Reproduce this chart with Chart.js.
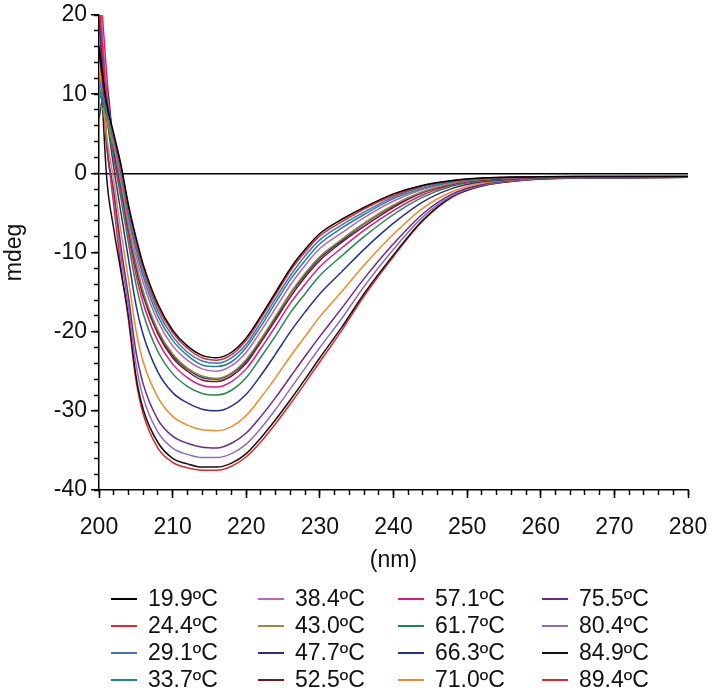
<!DOCTYPE html>
<html>
<head>
<meta charset="utf-8">
<script src="https://cdn.jsdelivr.net/npm/chart.js@4.4.1/dist/chart.umd.min.js"></script>
<style>
  html, body { margin: 0; padding: 0; background: #fff; }
  #wrap { position: relative; width: 709px; height: 698px; }
  #legend { position: absolute; left: 0; top: 0; font-family: "Liberation Sans", Arial, sans-serif; font-size: 23px; color: #111; }
  .item { position: absolute; display: flex; align-items: center; height: 25px; white-space: nowrap; }
  .swatch { width: 26px; height: 2px; margin-right: 11px; }
</style>
</head>
<body>
<div id="wrap"><canvas id="cdChart"></canvas><div id="legend"></div></div>
<script>
// wavelength (nm)
const wavelengths = [200, 201, 202, 203, 204, 205, 206, 208, 210, 212, 214, 216, 218, 220, 222, 224, 226, 228, 230, 233, 236, 240, 244, 248, 252, 258, 265, 272, 280];

// temperature labels
const temps = ['19.9ºC', '24.4ºC', '29.1ºC', '33.7ºC', '38.4ºC', '43.0ºC', '47.7ºC', '52.5ºC',
               '57.1ºC', '61.7ºC', '66.3ºC', '71.0ºC', '75.5ºC', '80.4ºC', '84.9ºC', '89.4ºC'];

// CD signal (mdeg), one array per temperature
const cd19_9 = [16, 9, 5, 1, -4, -8, -11.5, -16.5, -19.8, -21.8, -23, -23.3, -22.6, -20.8, -18, -15, -12, -9.6, -7.6, -5.8, -4.3, -2.6, -1.5, -0.9, -0.6, -0.45, -0.4, -0.4, -0.4];
const cd24_4 = [22, 10, 4.8, 0.7, -4.3, -8.4, -11.9, -16.9, -20.1, -22.1, -23.3, -23.6, -22.9, -21.1, -18.3, -15.3, -12.3, -9.9, -7.9, -6.1, -4.5, -2.8, -1.6, -0.94, -0.62, -0.46, -0.4, -0.4, -0.4];
const cd29_1 = [12, 8, 4.6, 0.4, -4.7, -8.9, -12.4, -17.4, -20.6, -22.6, -23.7, -24.0, -23.3, -21.6, -18.8, -15.8, -12.9, -10.4, -8.4, -6.5, -4.9, -3.0, -1.7, -1.0, -0.65, -0.47, -0.41, -0.41, -0.4];
const cd33_7 = [10, 8, 4.3, 0.0, -5.2, -9.4, -13.0, -18.0, -21.1, -23.0, -24.2, -24.4, -23.8, -22.0, -19.3, -16.3, -13.4, -11.0, -8.9, -6.9, -5.2, -3.2, -1.9, -1.07, -0.68, -0.48, -0.42, -0.41, -0.41];
const cd38_4 = [24, 11, 3.9, -0.6, -5.7, -10.2, -13.8, -18.7, -21.8, -23.6, -24.7, -25.0, -24.3, -22.6, -19.9, -17.0, -14.1, -11.6, -9.5, -7.5, -5.6, -3.5, -2.0, -1.15, -0.72, -0.5, -0.42, -0.42, -0.41];
const cd43_0 = [9, 7, 3.4, -1.3, -6.6, -11.2, -14.9, -19.8, -22.8, -24.6, -25.6, -25.9, -25.2, -23.5, -20.9, -18.0, -15.1, -12.6, -10.5, -8.3, -6.3, -4.0, -2.3, -1.28, -0.78, -0.52, -0.44, -0.43, -0.42];
const cd47_7 = [7, 11, 3.3, -1.5, -6.8, -11.4, -15.1, -20.0, -23.0, -24.7, -25.8, -26.0, -25.3, -23.7, -21.0, -18.2, -15.2, -12.8, -10.7, -8.5, -6.4, -4.1, -2.4, -1.3, -0.79, -0.53, -0.44, -0.43, -0.42];
const cd52_5 = [15, 9, 3.1, -1.7, -7.0, -11.8, -15.5, -20.3, -23.3, -25.0, -26.1, -26.3, -25.6, -24.0, -21.3, -18.5, -15.6, -13.1, -11.0, -8.7, -6.7, -4.3, -2.4, -1.34, -0.81, -0.53, -0.44, -0.43, -0.42];
const cd57_1 = [26, 13, 2.7, -2.4, -7.8, -12.7, -16.4, -21.2, -24.1, -25.8, -26.8, -27.0, -26.3, -24.7, -22.1, -19.3, -16.4, -14.0, -11.8, -9.4, -7.2, -4.7, -2.7, -1.45, -0.86, -0.55, -0.45, -0.44, -0.43];
const cd61_7 = [11, 7, 2.0, -3.3, -8.8, -13.9, -17.7, -22.5, -25.3, -26.9, -27.8, -28.0, -27.4, -25.8, -23.2, -20.5, -17.6, -15.2, -12.9, -10.4, -8.0, -5.2, -3.0, -1.6, -0.93, -0.58, -0.47, -0.45, -0.43];
const cd66_3 = [20, 8, 0.8, -5.1, -10.8, -16.5, -20.4, -25.1, -27.7, -29.0, -29.8, -30.0, -29.4, -27.9, -25.5, -22.8, -20.0, -17.5, -15.2, -12.4, -9.6, -6.3, -3.6, -1.9, -1.07, -0.64, -0.49, -0.47, -0.45];
const cd71_0 = [14, 5, -0.9, -7.5, -13.4, -19.7, -23.8, -28.3, -30.7, -31.8, -32.4, -32.5, -32.0, -30.6, -28.3, -25.8, -23.1, -20.6, -18.1, -14.9, -11.6, -7.7, -4.4, -2.3, -1.25, -0.71, -0.53, -0.5, -0.47];
const cd75_5 = [20, 4, -2.2, -9.4, -15.6, -22.4, -26.6, -31.1, -33.2, -34.1, -34.6, -34.7, -34.1, -32.8, -30.7, -28.3, -25.7, -23.1, -20.6, -17.0, -13.3, -8.9, -5.1, -2.6, -1.4, -0.77, -0.56, -0.52, -0.48];
const cd80_4 = [18, 4, -3.0, -10.6, -16.9, -24.0, -28.3, -32.7, -34.7, -35.5, -35.9, -35.9, -35.4, -34.2, -32.2, -29.8, -27.2, -24.6, -22.0, -18.3, -14.3, -9.6, -5.5, -2.8, -1.5, -0.81, -0.58, -0.53, -0.49];
const cd84_9 = [18, 0, -7, -12.5, -18, -25.5, -29.8, -34.0, -36.0, -36.7, -37.1, -37.1, -36.6, -35.4, -33.4, -31.1, -28.6, -26.0, -23.3, -19.4, -15.2, -10.3, -5.9, -2.9, -1.57, -0.84, -0.59, -0.55, -0.5];
const cd89_4 = [25, 5, -4, -12, -18.5, -26, -30.4, -34.7, -36.5, -37.2, -37.5, -37.5, -37, -35.8, -33.9, -31.6, -29.1, -26.5, -23.8, -19.8, -15.5, -10.5, -6.0, -3.0, -1.6, -0.85, -0.6, -0.55, -0.5];

const series = [cd19_9, cd24_4, cd29_1, cd33_7, cd38_4, cd43_0, cd47_7, cd52_5,
                cd57_1, cd61_7, cd66_3, cd71_0, cd75_5, cd80_4, cd84_9, cd89_4];

const colors = ['#000000', '#e8262b', '#4a6fbf', '#138a8a', '#c060b8', '#8f8f3a', '#2a2f7a', '#7a1418',
                '#e0187f', '#1f8a4c', '#25308f', '#f08a24', '#6c2a86', '#8a6cc0', '#111111', '#e3262d'];

const FONT = { family: '"Liberation Sans", Arial, sans-serif', size: 23 };

const datasets = series.map((vals, i) => ({
    label: temps[i],
    data: wavelengths.map((w, j) => ({ x: w, y: vals[j] })),
    borderColor: colors[i],
    borderWidth: 1.5,
    pointRadius: 0,
    cubicInterpolationMode: 'monotone',
    fill: false
}));

// minor tick axes: no labels, no border, zero thickness, sit right on the main axis line
const minorX = {
    type: 'linear', position: 'bottom', min: 200, max: 280, weight: -1,
    border: { display: false },
    grid: { drawOnChartArea: false, tickLength: 5, tickColor: '#000', tickWidth: 1.5 },
    ticks: { stepSize: 2, autoSkip: false, display: false },
    afterFit: s => { s.height = 0; s.paddingLeft = 0; s.paddingRight = 0; }
};
const minorY = {
    type: 'linear', position: 'left', min: -40, max: 20, weight: -1,
    border: { display: false },
    grid: { drawOnChartArea: false, tickLength: 5, tickColor: '#000', tickWidth: 1.5 },
    ticks: { stepSize: 2, autoSkip: false, display: false },
    afterFit: s => { s.width = 0; s.paddingTop = 0; s.paddingBottom = 0; }
};

const chart = new Chart(document.getElementById('cdChart'), {
    type: 'line',
    data: { datasets },
    options: {
        responsive: true,
        maintainAspectRatio: false,
        animation: false,
        layout: { padding: { left: 0, top: 15, right: 21, bottom: 124 } },
        plugins: { legend: { display: false }, tooltip: { enabled: false } },
        scales: {
            x: {
                type: 'linear',
                position: 'bottom',
                min: 200,
                max: 280,
                border: { display: true, color: '#000', width: 1.5 },
                grid: { drawOnChartArea: false, drawTicks: true, tickLength: 8, tickColor: '#000', tickWidth: 1.5 },
                ticks: {
                    stepSize: 10,
                    maxRotation: 0,
                    padding: 16,
                    color: '#111',
                    font: FONT
                },
                title: { display: true, text: '(nm)', color: '#111', font: FONT, padding: 0 },
                afterFit: s => { s.height = 84; s.paddingLeft = 0; s.paddingRight = 0; }
            },
            y: {
                position: 'left',
                min: -40,
                max: 20,
                border: { display: true, color: '#000', width: 1.5 },
                grid: {
                    drawOnChartArea: true,
                    drawTicks: true,
                    tickLength: 8,
                    tickColor: '#000',
                    tickWidth: 1.5,
                    lineWidth: 1.5,
                    color: c => (c.tick && c.tick.value === 0 ? '#000' : 'rgba(0,0,0,0)')
                },
                ticks: {
                    stepSize: 10,
                    padding: 4,
                    color: '#111',
                    font: FONT
                },
                title: { display: true, text: 'mdeg', color: '#111', font: FONT, padding: 1 },
                afterFit: s => { s.width = 99; s.paddingTop = 0; s.paddingBottom = 0; }
            },
            xMinor: minorX,
            yMinor: minorY
        }
    }
});

// legend: 4 columns, filled top to bottom
function renderLegend() {
    const box = document.getElementById('legend');
    const colX = [111, 258, 398, 542];
    const rowY = 586;
    const rowH = 27;
    chart.data.datasets.forEach((ds, i) => {
        const item = document.createElement('div');
        item.className = 'item';
        item.style.left = colX[Math.floor(i / 4)] + 'px';
        item.style.top = (rowY + (i % 4) * rowH) + 'px';
        item.innerHTML = `<span class="swatch" style="background:${ds.borderColor}"></span>${ds.label}`;
        box.appendChild(item);
    });
}
renderLegend();
</script>
</body>
</html>
